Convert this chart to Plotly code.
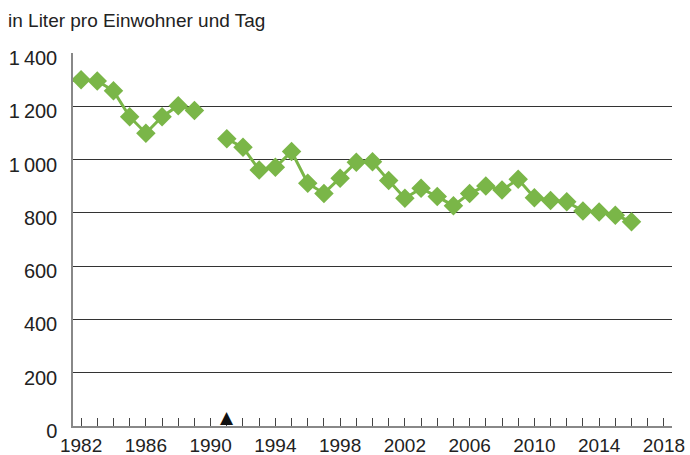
import plotly.graph_objects as go

# Wasserverbrauch in Liter pro Einwohner und Tag
years = list(range(1982, 2017))
values = [1300, 1295, 1258, 1161, 1099, 1161, 1202, 1184, None,
          1078, 1046, 961, 971, 1030, 911, 873, 930, 990, 992,
          921, 855, 892, 861, 827, 873, 901, 886, 926, 857,
          846, 842, 807, 803, 791, 767]

y_ticks = [0, 200, 400, 600, 800, 1000, 1200, 1400]
y_ticktext = ["0", "200", "400", "600", "800", "1\u2009000", "1\u2009200", "1\u2009400"]
x_ticks = [1982, 1986, 1990, 1994, 1998, 2002, 2006, 2010, 2014, 2018]

marker_year = 1991
title_text = "in Liter pro Einwohner und Tag"

green = "#7ab648"
font_family = "Liberation Sans, Arial, sans-serif"

fig = go.Figure()
fig.add_trace(go.Scatter(
    x=years, y=values, mode="lines+markers",
    connectgaps=False,
    line=dict(color=green, width=3),
    marker=dict(symbol="diamond", size=15, color=green),
    hoverinfo="x+y", showlegend=False,
))

# Markierung auf der Zeitachse
fig.add_annotation(
    x=marker_year, y=0, xref="x", yref="y", text="\u25B2",
    showarrow=False, yanchor="bottom", xanchor="center", yshift=-3,
    font=dict(size=17, color="#111111", family="DejaVu Sans"),
)

fig.add_annotation(
    x=0, y=1, xref="paper", yref="paper", xshift=-67, yshift=20,
    text=title_text, showarrow=False, xanchor="left", yanchor="bottom",
    font=dict(size=19, color="#222222", family=font_family),
)

fig.update_layout(
    width=690, height=455,
    margin=dict(l=73, r=18, t=53, b=29),
    paper_bgcolor="white", plot_bgcolor="white",
    font=dict(family=font_family, size=20, color="#222222"),
    xaxis=dict(
        range=[1981.5, 2018.5], automargin=False,
        tickvals=x_ticks, ticks="inside", ticklen=8, tickcolor="#444444",
        tickwidth=1, tickfont=dict(size=19),
        minor=dict(dtick=1, tick0=1982, ticks="inside", ticklen=8,
                   tickcolor="#444444", tickwidth=1, showgrid=False),
        showgrid=False, zeroline=False,
        showline=True, linecolor="#888888", linewidth=2,
        ticklabelstandoff=1,
    ),
    yaxis=dict(
        range=[0, 1400], automargin=False,
        tickvals=y_ticks, ticktext=y_ticktext,
        showgrid=True, gridcolor="#333333", gridwidth=1,
        zeroline=False, showline=True, linecolor="#888888", linewidth=1.5,
        ticks="", ticklabelstandoff=10, ticklabelshift=5,
    ),
)

fig.write_html("out.html")
